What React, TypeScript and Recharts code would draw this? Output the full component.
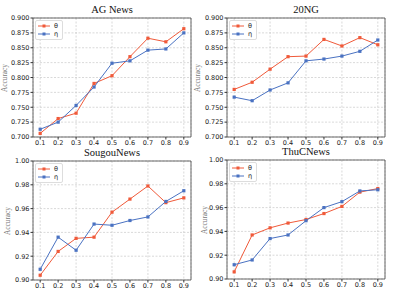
import React from "react";
import { LineChart, Line, XAxis, YAxis, CartesianGrid, ReferenceArea } from "recharts";

const ratios = [0.1, 0.2, 0.3, 0.4, 0.5, 0.6, 0.7, 0.8, 0.9];

const agTheta = [0.706, 0.731, 0.740, 0.790, 0.803, 0.835, 0.866, 0.860, 0.882];
const agEta = [0.713, 0.725, 0.753, 0.784, 0.824, 0.828, 0.846, 0.848, 0.875];

const ngTheta = [0.780, 0.792, 0.814, 0.835, 0.836, 0.864, 0.853, 0.867, 0.855];
const ngEta = [0.767, 0.761, 0.779, 0.791, 0.828, 0.831, 0.836, 0.844, 0.863];

const sgTheta = [0.904, 0.924, 0.935, 0.936, 0.957, 0.968, 0.979, 0.965, 0.969];
const sgEta = [0.909, 0.936, 0.925, 0.947, 0.946, 0.950, 0.953, 0.966, 0.975];

const thTheta = [0.906, 0.937, 0.943, 0.947, 0.950, 0.955, 0.961, 0.973, 0.976];
const thEta = [0.912, 0.916, 0.934, 0.937, 0.949, 0.960, 0.965, 0.974, 0.975];

const ticks1 = [0.7, 0.725, 0.75, 0.775, 0.8, 0.825, 0.85, 0.875, 0.9];
const ticks2 = [0.9, 0.92, 0.94, 0.96, 0.98, 1.0];

const RED = "#f05a3a";
const BLUE = "#4a72c2";

const build = (a: number[], b: number[]) => ratios.map((r, i) => ({ r, theta: a[i], eta: b[i] }));

const tickStyle = { fontSize: 6.5, fill: "#222", fontFamily: "DejaVu Sans" };

const LegendBox = ({ left, top }: { left: number; top: number }) => (
  <div style={{ position: "absolute", left, top, border: "1px solid #ddd", borderRadius: 2, background: "#fff", padding: "1px 4px 1px 2px", fontFamily: "DejaVu Sans", fontSize: 6.5, lineHeight: "8px", color: "#222", zIndex: 2 }}>
    {[{ c: RED, t: "θ" }, { c: BLUE, t: "η" }].map((e) => (
      <div key={e.t} style={{ display: "flex", alignItems: "center" }}>
        <svg width={12} height={8}>
          <line x1={0} y1={4} x2={12} y2={4} stroke={e.c} strokeWidth={1} />
          <rect x={4.5} y={2.5} width={3} height={3} fill={e.c} />
        </svg>
        <span style={{ marginLeft: 4 }}>{e.t}</span>
      </div>
    ))}
  </div>
);

type PanelProps = {
  title: string;
  left: number;
  top: number;
  plotLeft: number;
  plotTop: number;
  plotRight: number;
  plotBottom: number;
  data: { r: number; theta: number; eta: number }[];
  yDomain: [number, number];
  yTicks: number[];
  fmt: (v: number) => string;
  labelX: number;
};

const W = 203;
const H = 150;

const Dot = (color: string) => (p: any) => (
  <rect key={p.index} x={p.cx - 1.6} y={p.cy - 1.6} width={3.2} height={3.2} fill={color} />
);

const Panel = (p: PanelProps) => {
  const xDomain: [number, number] = [0.06, 0.94];
  const yCenter = (p.plotTop + p.plotBottom) / 2;
  return (
    <div style={{ position: "absolute", left: p.left, top: p.top, width: W, height: H }}>
      <div style={{ position: "absolute", left: p.plotLeft - 60, width: p.plotRight - p.plotLeft + 120, top: p.plotTop - 14, textAlign: "center", fontFamily: "Liberation Serif", fontSize: 10.5, fontWeight: 400, color: "#111", lineHeight: "12px" }}>
        {p.title}
      </div>
      <div style={{ position: "absolute", left: p.labelX - 30, top: yCenter - 5, width: 60, textAlign: "center", transform: "rotate(-90deg)", fontFamily: "Liberation Serif", fontSize: 7.3, color: "#777", lineHeight: "10px" }}>
        Accuracy
      </div>
      <LineChart
        width={W}
        height={H}
        data={p.data}
        margin={{ top: p.plotTop, right: W - p.plotRight, bottom: 0, left: 0 }}
        style={{ position: "absolute", left: 0, top: 0 }}
      >
        <CartesianGrid strokeDasharray="2 1.5" stroke="#c8c8c8" strokeWidth={0.7} />
        <XAxis
          dataKey="r"
          type="number"
          domain={xDomain}
          ticks={ratios}
          tickFormatter={(v: number) => v.toFixed(1)}
          tick={tickStyle}
          tickSize={2.5}
          tickMargin={1}
          height={H - p.plotBottom}
          axisLine={false}
          tickLine={{ stroke: "#333" }}
          allowDataOverflow
        />
        <YAxis
          type="number"
          domain={p.yDomain}
          ticks={p.yTicks}
          tickFormatter={p.fmt}
          tick={tickStyle}
          tickSize={2.5}
          tickMargin={1}
          width={p.plotLeft}
          axisLine={false}
          tickLine={{ stroke: "#333" }}
          interval={0}
          allowDataOverflow
        />
        <ReferenceArea x1={xDomain[0]} x2={xDomain[1]} y1={p.yDomain[0]} y2={p.yDomain[1]} fill="none" fillOpacity={0} stroke="#444" strokeWidth={0.8} strokeOpacity={1} ifOverflow="visible" />
        <Line dataKey="theta" stroke={RED} strokeWidth={1} dot={Dot(RED)} isAnimationActive={false} />
        <Line dataKey="eta" stroke={BLUE} strokeWidth={1} dot={Dot(BLUE)} isAnimationActive={false} />
      </LineChart>
      <LegendBox left={p.plotLeft + 2} top={p.plotTop + 2} />
    </div>
  );
};

export default function App() {
  const f3 = (v: number) => v.toFixed(3);
  const f2 = (v: number) => v.toFixed(2);
  return (
    <div style={{ position: "absolute", left: 0, top: 0, width: 407, height: 297, background: "#fff" }}>
      <Panel title="AG News" left={0} top={0} plotLeft={33} plotTop={18} plotRight={191} plotBottom={137} data={build(agTheta, agEta)} yDomain={[0.7, 0.9]} yTicks={ticks1} fmt={f3} labelX={5} />
      <Panel title="20NG" left={200} top={0} plotLeft={27} plotTop={18} plotRight={185} plotBottom={137} data={build(ngTheta, ngEta)} yDomain={[0.7, 0.9]} yTicks={ticks1} fmt={f3} labelX={-2} />
      <Panel title="SougouNews" left={0} top={145} plotLeft={33} plotTop={16} plotRight={191} plotBottom={135} data={build(sgTheta, sgEta)} yDomain={[0.9, 1.0]} yTicks={ticks2} fmt={f2} labelX={8} />
      <Panel title="ThuCNews" left={200} top={145} plotLeft={27} plotTop={15} plotRight={185} plotBottom={134} data={build(thTheta, thEta)} yDomain={[0.9, 1.0]} yTicks={ticks2} fmt={f2} labelX={5} />
    </div>
  );
}
